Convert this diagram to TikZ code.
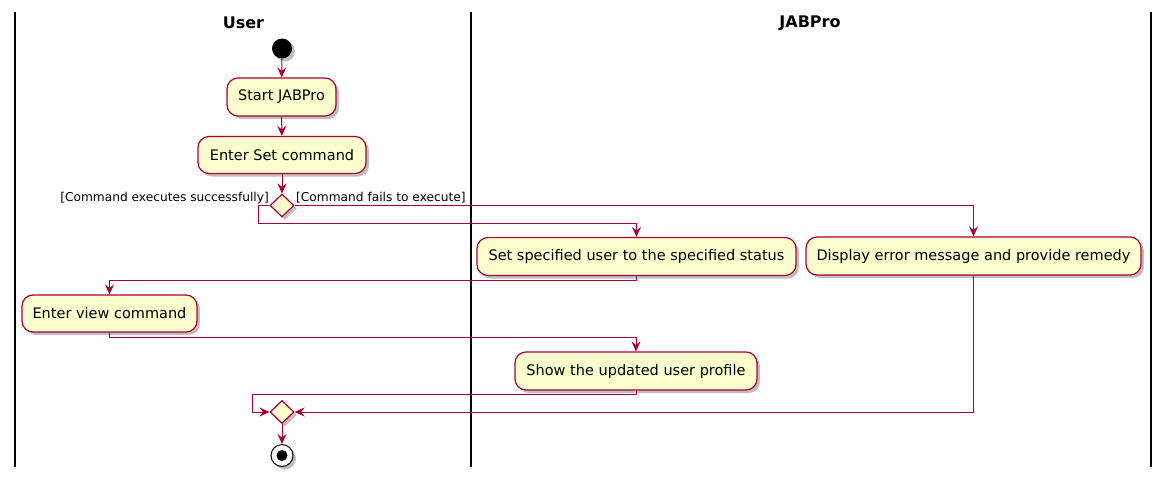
\documentclass[tikz,border=0pt]{standalone}
\usepackage{fontspec}
\setmainfont{DejaVu Sans}
\usetikzlibrary{shapes.geometric,arrows.meta,shadows}
\definecolor{pumlred}{HTML}{A80036}
\definecolor{pumlfill}{HTML}{FEFECE}
\begin{document}
\begin{tikzpicture}[x=1pt,y=-1pt,
  shad/.style={drop shadow={shadow xshift=3pt,shadow yshift=-3pt,fill=black,opacity=0.25}},
  act/.style={draw=pumlred, fill=pumlfill, line width=1.2pt, rounded corners=11pt,
    minimum height=38pt, inner xsep=10pt, font=\fontsize{14.5}{17}\selectfont, shad},
  dec/.style={diamond, draw=pumlred, fill=pumlfill, line width=1.2pt,
    minimum width=24pt, minimum height=23pt, inner sep=0pt, shad},
  flow/.style={draw=pumlred, line width=1pt, -{Stealth[length=10pt,width=9pt,inset=3.5pt]}},
  lbl/.style={font=\fontsize{12.2}{14}\selectfont, inner sep=0pt},
  lane/.style={draw=black, line width=2pt},
  ttl/.style={font=\fontsize{16}{19}\selectfont\bfseries, inner sep=0pt}]
\useasboundingbox (0,0) rectangle (1169,482);

% swimlanes
\draw[lane] (15,12) -- (15,467);
\draw[lane] (471,12) -- (471,467);
\draw[lane] (1151,12) -- (1151,467);
\node[ttl] (t1) at (243.5,23) {User};
\node[ttl] (t2) at (810,23) {JABPro};

% nodes
\node[circle, fill=black, minimum size=20pt, inner sep=0pt, shad] (start) at (282,48.5) {};
\node[act, minimum width=109pt] (a1) at (281.5,97) {Start JABPro};
\node[act, minimum width=168pt, minimum height=37pt] (a2) at (282,155) {Enter Set command};
\node[dec] (d1) at (282,205.5) {};
\node[act, minimum width=319pt] (a3) at (636.5,256.5) {Set specified user to the specified status};
\node[act, minimum width=335pt] (a4) at (973.5,256) {Display error message and provide remedy};
\node[act, minimum width=175pt, minimum height=37pt] (a5) at (109.5,313.5) {Enter view command};
\node[act, minimum width=242pt] (a6) at (636,371) {Show the updated user profile};
\node[dec] (d2) at (282,412) {};
\node[circle, draw=black, fill=white, line width=1pt, minimum size=22pt, inner sep=0pt, shad] (stop) at (282,455.5) {};
\node[circle, fill=black, minimum size=11pt, inner sep=0pt] (stopin) at (stop.center) {};

% labels
\node[lbl, anchor=east] (lt) at (269,198) {[Command executes successfully]};
\node[lbl, anchor=west] (lf) at (296,198) {[Command fails to execute]};

% connectors
\draw[flow] (start) -- (a1);
\draw[flow] (a1) -- (a2);
\draw[flow] (a2) -- (d1);
\draw[flow] (d1.west) -| (258,223) -| (a3.north);
\draw[flow] (d1.east) -| (a4.north);
\draw[flow] (a3.south) -- ++(0,4) -| (a5.north);
\draw[flow] (a5.south) -- ++(0,5) -| (a6.north);
\draw[flow] (a6.south) -- ++(0,4) -| (252,412) -- (d2.west);
\draw[flow] (a4.south) |- (d2.east);
\draw[flow] (d2) -- (stop);
\end{tikzpicture}
\end{document}
